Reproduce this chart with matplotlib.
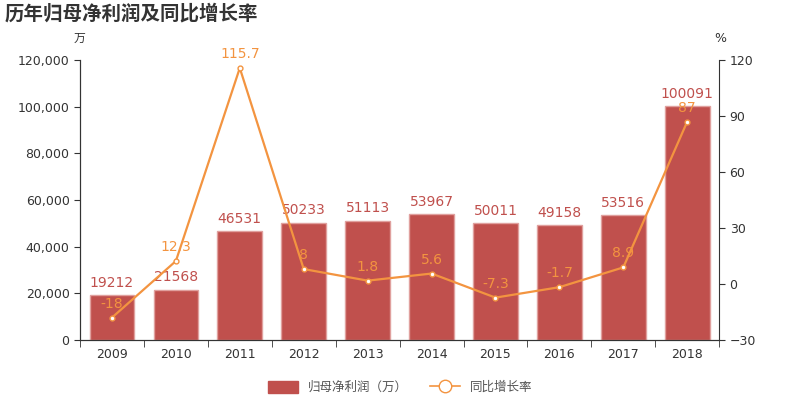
import matplotlib
matplotlib.use("Agg")
import matplotlib.pyplot as plt
from matplotlib.ticker import FuncFormatter, MultipleLocator, FixedLocator
from matplotlib.lines import Line2D
from matplotlib.patches import Patch

plt.rcParams['font.family'] = ['DejaVu Sans', 'Noto Sans CJK SC']

years = ['2009', '2010', '2011', '2012', '2013', '2014', '2015', '2016', '2017', '2018']
profit = [19212, 21568, 46531, 50233, 51113, 53967, 50011, 49158, 53516, 100091]
growth = [-18, 12.3, 115.7, 8, 1.8, 5.6, -7.3, -1.7, 8.9, 87]
growth_labels = ['-18', '12.3', '115.7', '8', '1.8', '5.6', '-7.3', '-1.7', '8.9', '87']

bar_color = '#c0504d'
line_color = '#f39440'
text_color = '#333333'

fig = plt.figure(figsize=(8, 4), dpi=100)
ax1 = fig.add_axes([0.1, 0.15, 0.799, 0.70])
ax2 = ax1.twinx()

x = list(range(len(years)))
ax1.bar(x, profit, width=0.7, color=bar_color, edgecolor='#e0a09e', linewidth=1, zorder=2)
for i, v in enumerate(profit):
    ax1.annotate(str(v), (i, v), xytext=(0, 4), textcoords='offset points',
                 ha='center', va='bottom', fontsize=10, color=bar_color)

ax1.set_xlim(-0.5, len(years) - 0.5)
ax1.set_ylim(0, 120000)
ax1.yaxis.set_major_locator(MultipleLocator(20000))
ax1.yaxis.set_major_formatter(FuncFormatter(lambda v, p: '{:,.0f}'.format(v)))
ax1.set_xticks(x)
ax1.set_xticklabels(years)
ax1.xaxis.set_minor_locator(FixedLocator([i + 0.5 for i in range(-1, len(years))]))
ax1.tick_params(axis='x', which='major', length=0, pad=6, labelsize=9, labelcolor=text_color)
ax1.tick_params(axis='x', which='minor', length=5, color=text_color)
ax1.tick_params(axis='y', length=4, labelsize=9, labelcolor=text_color, color=text_color)

ax2.plot(x, growth, color=line_color, linewidth=1.6, marker='o', markersize=3.5,
         markerfacecolor='white', markeredgecolor=line_color, markeredgewidth=1, zorder=3)
for i, v in enumerate(growth):
    ax2.annotate(growth_labels[i], (i, v), xytext=(0, 5), textcoords='offset points',
                 ha='center', va='bottom', fontsize=10, color=line_color)
ax2.set_ylim(-30, 120)
ax2.yaxis.set_major_locator(MultipleLocator(30))
ax2.tick_params(axis='y', length=4, labelsize=9, labelcolor=text_color, color=text_color)

for ax in (ax1, ax2):
    ax.spines['top'].set_visible(False)
    for s in ('left', 'right', 'bottom'):
        ax.spines[s].set_color(text_color)
ax1.spines['right'].set_visible(False)

fig.text(0.006, 0.967, '历年归母净利润及同比增长率', fontsize=14, fontweight='bold',
         color=text_color, va='center', ha='left', family=['Noto Sans CJK SC'])
fig.text(0.099, 0.903, '万', fontsize=8.5, color=text_color, ha='center', va='center',
         family=['Noto Sans CJK SC'])
fig.text(0.9, 0.903, '%', fontsize=9, color=text_color, ha='center', va='center')

handles = [Patch(facecolor=bar_color, edgecolor=bar_color, label='归母净利润（万）'),
           Line2D([0], [0], color=line_color, marker='o', markersize=9, markerfacecolor='white',
                  markeredgecolor=line_color, linewidth=1.2, label='同比增长率')]
fig.legend(handles=handles, loc='center', bbox_to_anchor=(0.5, 0.032), ncol=2, frameon=False,
           prop={'family': ['Noto Sans CJK SC'], 'size': 9}, labelcolor='#555555',
           handlelength=2.4, handleheight=1.1, columnspacing=1.8)

fig.savefig('out.png', dpi=100)
